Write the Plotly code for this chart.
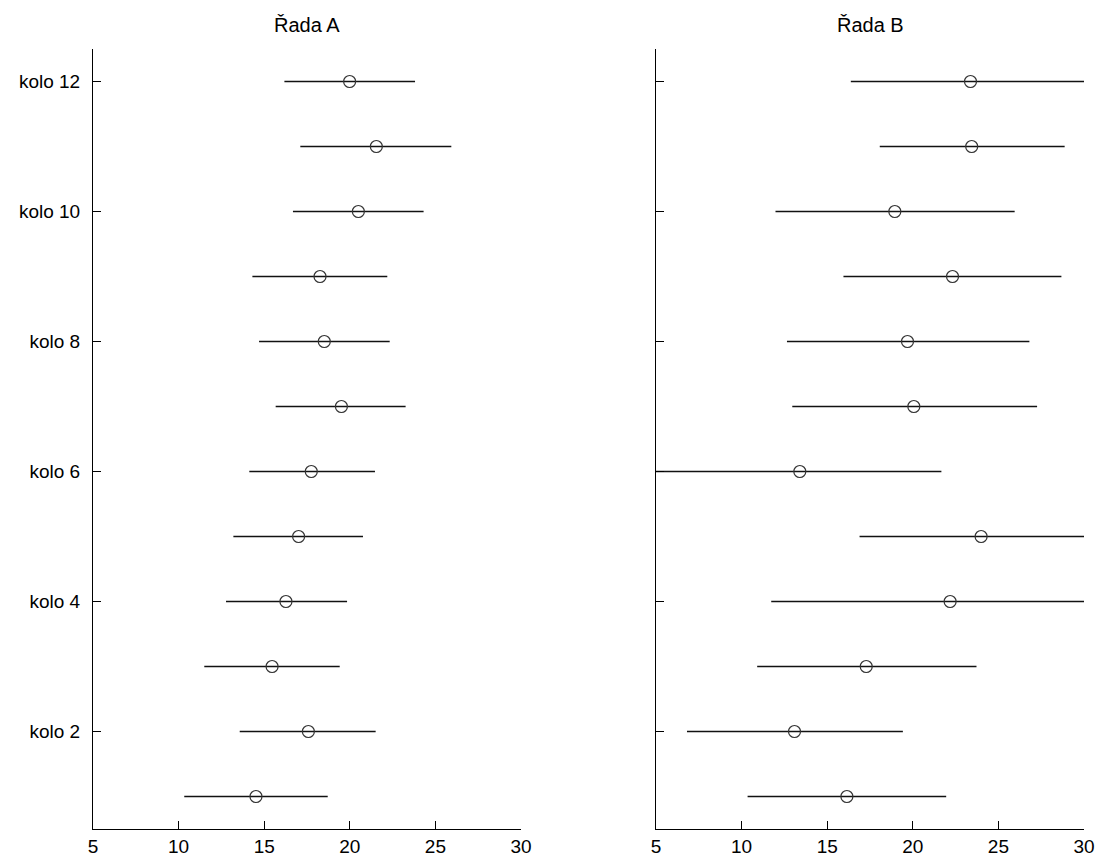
import plotly.graph_objects as go

rounds = list(range(1, 13))
tick_vals = [2, 4, 6, 8, 10, 12]
tick_text = ["kolo 2", "kolo 4", "kolo 6", "kolo 8", "kolo 10", "kolo 12"]
x_ticks = [5, 10, 15, 20, 25, 30]
panel_titles = ["Řada A", "Řada B"]

a_mean = [14.52, 17.58, 15.46, 16.27, 17.01, 17.75, 19.51, 18.51, 18.26, 20.50, 21.55, 19.99]
a_low = [10.33, 13.57, 11.50, 12.77, 13.20, 14.13, 15.67, 14.70, 14.31, 16.68, 17.11, 16.18]
a_high = [18.71, 21.51, 19.41, 19.84, 20.77, 21.47, 23.26, 22.33, 22.19, 24.31, 25.93, 23.81]

b_mean = [16.15, 13.09, 17.28, 22.18, 23.99, 13.40, 20.06, 19.69, 22.32, 18.95, 23.44, 23.37]
b_low = [10.35, 6.81, 10.91, 11.73, 16.89, 5.0, 12.96, 12.65, 15.95, 11.98, 18.07, 16.38]
b_high = [21.95, 19.42, 23.72, 30.0, 30.0, 21.67, 27.26, 26.81, 28.68, 25.95, 28.87, 30.0]

FONT = "Liberation Sans, Arial, sans-serif"
TICK_SIZE = 19
TITLE_SIZE = 20

fig = go.Figure()


def add_panel(mean, low, high, xa, ya):
    plus = [h - m for h, m in zip(high, mean)]
    minus = [m - l for m, l in zip(mean, low)]
    fig.add_trace(go.Scatter(
        x=mean, y=rounds, mode="markers", xaxis=xa, yaxis=ya,
        marker=dict(symbol="circle-open", size=12, color="#333333",
                    line=dict(width=1.2, color="#333333")),
        error_x=dict(type="data", symmetric=False, array=plus, arrayminus=minus,
                     width=0, thickness=1.3, color="#111111"),
        showlegend=False, cliponaxis=False,
    ))


add_panel(a_mean, a_low, a_high, "x", "y")
add_panel(b_mean, b_low, b_high, "x2", "y2")

# page has an 8px body margin, so figure is shrunk accordingly
W, H = 1099, 857
ml, mr, mt, mb = 85, 23, 41, 36
pw = W - ml - mr
dA = [0, 428 / pw]
dB = [(648 - ml) / pw, 1]

xcommon = dict(range=[5, 30], tickvals=x_ticks, ticks="inside", ticklen=8,
               tickwidth=1, tickcolor="black", showline=True, linecolor="black",
               linewidth=1, showgrid=False, zeroline=False, mirror=False,
               automargin=False,
               tickfont=dict(family=FONT, size=TICK_SIZE, color="black"))
ycommon = dict(range=[0.5, 12.5], tickvals=tick_vals, ticks="inside", ticklen=8,
               tickwidth=1, tickcolor="black", showline=True, linecolor="black",
               linewidth=1, showgrid=False, zeroline=False, automargin=False,
               tickfont=dict(family=FONT, size=TICK_SIZE, color="black"))

fig.update_layout(
    width=W, height=H,
    margin=dict(l=ml, r=mr, t=mt, b=mb, autoexpand=False),
    paper_bgcolor="white", plot_bgcolor="white",
    xaxis=dict(domain=dA, anchor="y", **xcommon),
    xaxis2=dict(domain=dB, anchor="y2", **xcommon),
    yaxis=dict(domain=[0, 1], anchor="x", ticktext=tick_text,
               ticklabelstandoff=8, **ycommon),
    yaxis2=dict(domain=[0, 1], anchor="x2", showticklabels=False, **ycommon),
    font=dict(family=FONT, color="black"),
)

ph = H - mt - mb
for title, dom in zip(panel_titles, [dA, dB]):
    fig.add_annotation(text=title, xref="paper", yref="paper",
                       x=(dom[0] + dom[1]) / 2, y=1 + 24 / ph,
                       xanchor="center", yanchor="middle", showarrow=False,
                       font=dict(family=FONT, size=TITLE_SIZE, color="black"))

fig.write_html("out.html")
